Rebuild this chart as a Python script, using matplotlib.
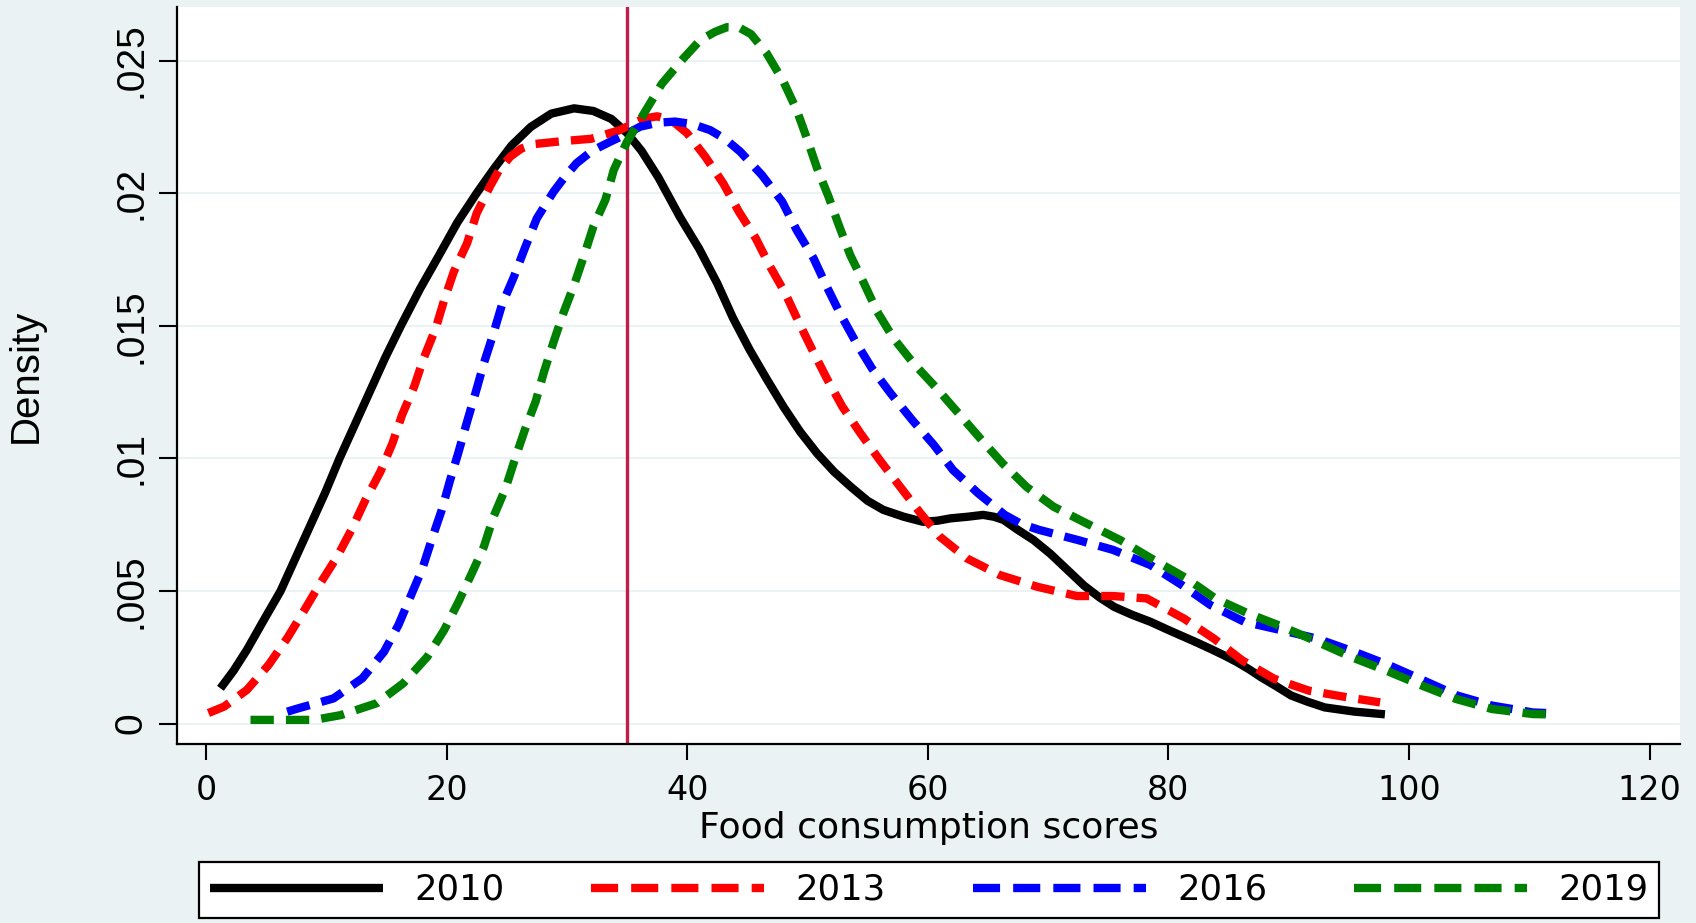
import matplotlib
matplotlib.use("Agg")
import matplotlib.pyplot as plt
from matplotlib import font_manager
from matplotlib.lines import Line2D

# Kernel density of food consumption scores, one curve per survey year
years = ["2010", "2013", "2016", "2019"]

x_2010 = [1.2, 2.3, 3.4, 4.8, 6.2, 7.4, 8.6, 9.9, 11.1, 12.4, 13.6, 14.9, 16.2,
          17.8, 19.3, 20.9, 22.5, 23.9, 25.4, 27.0, 28.7, 30.6, 32.2, 33.7, 35.0,
          36.2, 37.6, 39.4, 41.0, 42.5, 43.8, 45.2, 46.6, 48.0, 49.4, 50.8, 52.2,
          53.6, 55.0, 56.3, 58.0, 59.6, 60.8, 61.9, 63.3, 64.6, 65.5, 66.3, 67.5,
          68.8, 70.2, 71.6, 73.0, 74.3, 75.5, 77.0, 78.5, 80.0, 81.3, 82.4, 83.5,
          84.6, 85.7, 86.7, 87.7, 89.0, 90.2, 91.6, 93.0, 95.5, 98.0]
y_2010 = [.00133, .0020, .00278, .0039, .0050, .0062, .0074, .0087, .0100, .0113,
          .0125, .0138, .0150, .0164, .0176, .0189, .0200, .0209, .0218, .0225,
          .0230, .0232, .0231, .0228, .02227, .0216, .0206, .0191, .0179, .0166,
          .0153, .01409, .0130, .01195, .0110, .01019, .0095, .00893, .0084,
          .00806, .0078, .00761, .00765, .00774, .0078, .00787, .0078, .00768,
          .0073, .00692, .0064, .0058, .0052, .00475, .0044, .0041, .00384, .00353,
          .00327, .00305, .00282, .00258, .00232, .00205, .00175, .0014, .00106,
          .00082, .00061, .00045, .00035]

x_2013 = [0.2, 1.5, 3.4, 5.2, 6.75, 8.1, 9.5, 10.9, 12.15, 13.25, 14.5, 15.5, 16.3,
          17.3, 18.1, 19.1, 19.8, 20.6, 21.7, 22.5, 23.6, 24.4, 25.3, 26.2, 27.2,
          29.8, 32.0, 34.4, 36.3, 37.5, 38.7, 40.0, 41.5, 43.0, 44.3, 45.7, 46.9,
          48.15, 49.25, 50.4, 51.6, 52.9, 54.4, 56.0, 57.7, 59.4, 61.0, 63.25,
          66.0, 69.1, 72.4, 75.4, 78.2, 81.3, 83.8, 86.15, 88.8, 91.7, 94.9, 97.6]
y_2013 = [.0004, .00064, .00127, .00221, .00322, .00422, .00529, .00629, .00736,
          .00843, .0095, .01057, .01164, .0127, .01378, .01491, .01597, .01704,
          .01811, .01924, .02025, .0209, .02138, .02168, .02185, .02197, .02205,
          .02238, .0228, .0229, .02275, .02226, .02138, .02037, .0193, .0183,
          .01723, .01623, .01516, .01409, .01302, .01195, .01095, .00994, .00893,
          .00793, .00705, .00623, .0056, .00516, .00481, .00481, .00472, .00396,
          .0032, .00238, .00169, .00124, .00099, .0008]

x_2016 = [6.75, 7.7, 10.6, 13.0, 14.8, 16.0, 17.0, 18.0, 18.8, 19.6, 20.3, 21.0,
          21.7, 22.4, 23.1, 23.9, 24.6, 25.6, 26.5, 27.5, 28.9, 29.8, 30.8, 32.1,
          33.6, 34.8, 36.1, 37.6, 39.0, 40.4, 41.9, 43.2, 44.4, 46.2, 47.9, 49.1,
          50.5, 51.6, 52.7, 54.0, 55.35, 56.9, 58.7, 60.5, 62.1, 64.2, 66.4, 67.8,
          69.3, 72.5, 75.4, 78.5, 81.1, 83.5, 86.3, 89.4, 92.4, 95.5, 98.4, 101.2,
          104.0, 106.9, 110.3, 111.4]
y_2016 = [.00045, .00058, .00095, .00171, .00271, .00372, .00479, .00586, .00699,
          .00806, .00919, .01025, .01138, .01246, .01359, .01472, .01579, .01685,
          .01792, .01905, .02006, .0206, .02113, .0216, .02194, .0222, .02251,
          .02266, .0227, .02261, .02238, .02203, .02157, .02069, .01968, .01861,
          .01755, .01648, .01547, .0144, .0134, .01246, .01145, .01051, .00956,
          .00868, .00787, .00752, .0073, .00692, .00655, .00598, .00523, .00447,
          .00384, .00352, .0032, .0027, .00219, .00163, .00106, .00068, .00042,
          .0004]

x_2019 = [3.7, 9.0, 11.2, 14.2, 16.4, 18.4, 19.8, 21.0, 22.1, 23.1, 23.9, 24.9,
          25.7, 26.5, 27.4, 28.1, 28.9, 29.7, 30.6, 31.4, 32.2, 33.2, 33.9, 35.0,
          36.4, 37.9, 39.7, 41.1, 42.3, 43.3, 44.3, 45.3, 46.6, 48.0, 49.1, 49.95,
          50.8, 51.75, 52.6, 53.55, 54.7, 55.8, 57.15, 58.8, 60.75, 62.55, 64.35,
          66.2, 68.2, 70.45, 73.2, 76.0, 78.5, 81.5, 83.9, 86.6, 89.5, 92.4, 95.2,
          98.1, 101.1, 103.9, 106.9, 110.3, 111.4]
y_2019 = [.00014, .00014, .00032, .00077, .00152, .00252, .00353, .0046, .00567,
          .00667, .0078, .00887, .01, .01107, .01214, .01327, .0144, .01547, .01654,
          .01761, .01874, .01975, .02088, .02194, .0230, .02413, .02509, .02578,
          .02608, .02626, .02625, .026, .02528, .02421, .02314, .02207, .02094,
          .01987, .0188, .01767, .0166, .01553, .01453, .01359, .01264, .0117,
          .01076, .00982, .00893, .00818, .00755, .00692, .00625, .00548, .00472,
          .00416, .00365, .00308, .00251, .002, .00143, .00093, .00055, .00036,
          .00035]

cutoff = 35
x_ticks = [0, 20, 40, 60, 80, 100, 120]
y_ticks = [0, 0.005, 0.01, 0.015, 0.02, 0.025]
y_tick_labels = ["0", ".005", ".01", ".015", ".02", ".025"]

series = [(x_2010, y_2010), (x_2013, y_2013), (x_2016, y_2016), (x_2019, y_2019)]
colors = ["#000000", "#FF0000", "#0000FF", "#008000"]

installed = {f.name for f in font_manager.fontManager.ttflist}
narrow = "Liberation Sans Narrow" if "Liberation Sans Narrow" in installed else "Liberation Sans"

plt.rcParams["font.family"] = ["DejaVu Sans"]

bg = "#EAF2F3"
W, H = 1696, 923
fig = plt.figure(figsize=(W / 100, H / 100), dpi=100, facecolor=bg)
ax = fig.add_axes([177 / W, (H - 744) / H, (1680 - 177) / W, (744 - 7) / H])
ax.set_facecolor("white")

lw = 6.0
ax.axvline(cutoff, color="#C41C48", lw=2.4, zorder=1.5)
for (xs, ys), c, yr in zip(series, colors, years):
    if yr == "2010":
        ax.plot(xs, ys, color=c, lw=lw, solid_capstyle="butt",
                solid_joinstyle="round", zorder=2)
    else:
        ax.plot(xs, ys, color=c, lw=lw, dashes=(2.8, 1.45), dash_capstyle="butt",
                dash_joinstyle="round", zorder=2)

ax.set_xlim(-2.41, 122.53)
ax.set_ylim(-0.000769, 0.027021)

ax.set_xticks(x_ticks)
ax.set_yticks(y_ticks, labels=y_tick_labels, rotation=90, va="center",
              fontfamily=narrow, fontsize=28)
ax.tick_params(axis="x", direction="out", length=11.5, width=1.5, pad=10,
               labelsize=24, colors="black")
ax.tick_params(axis="y", direction="out", length=13, width=1.5, pad=7, colors="black")

ax.yaxis.grid(True, color=bg, lw=1.5)
ax.set_axisbelow(True)

for side in ("top", "right"):
    ax.spines[side].set_visible(False)
for side in ("left", "bottom"):
    ax.spines[side].set_linewidth(1.6)
    ax.spines[side].set_color("black")

ax.set_xlabel("Food consumption scores", fontsize=26, va="center")
ax.xaxis.set_label_coords(0.5, (744 - 828) / 737)
ax.set_ylabel("Density", fontfamily=narrow, fontsize=29, va="center")
ax.yaxis.set_label_coords((26 - 177) / 1503, 0.5)

handles = []
for c, yr in zip(colors, years):
    if yr == "2010":
        handles.append(Line2D([], [], color=c, lw=lw, solid_capstyle="butt"))
    else:
        handles.append(Line2D([], [], color=c, lw=lw, dashes=(3.25, 1.57),
                              dash_capstyle="butt"))

leg = fig.legend(handles, years, loc="center",
                 bbox_to_anchor=(199 / W, 2 / H, 1460 / W, 62 / H),
                 mode="expand", ncol=4, frameon=True, fancybox=False,
                 edgecolor="black", framealpha=1, facecolor="white",
                 handlelength=4.89, handletextpad=0.88, borderpad=0.3,
                 borderaxespad=0, prop=dict(family="DejaVu Sans", size=25.5))
leg.get_frame().set_linewidth(1.6)

fig.savefig("out.png", dpi=100, facecolor=bg)
